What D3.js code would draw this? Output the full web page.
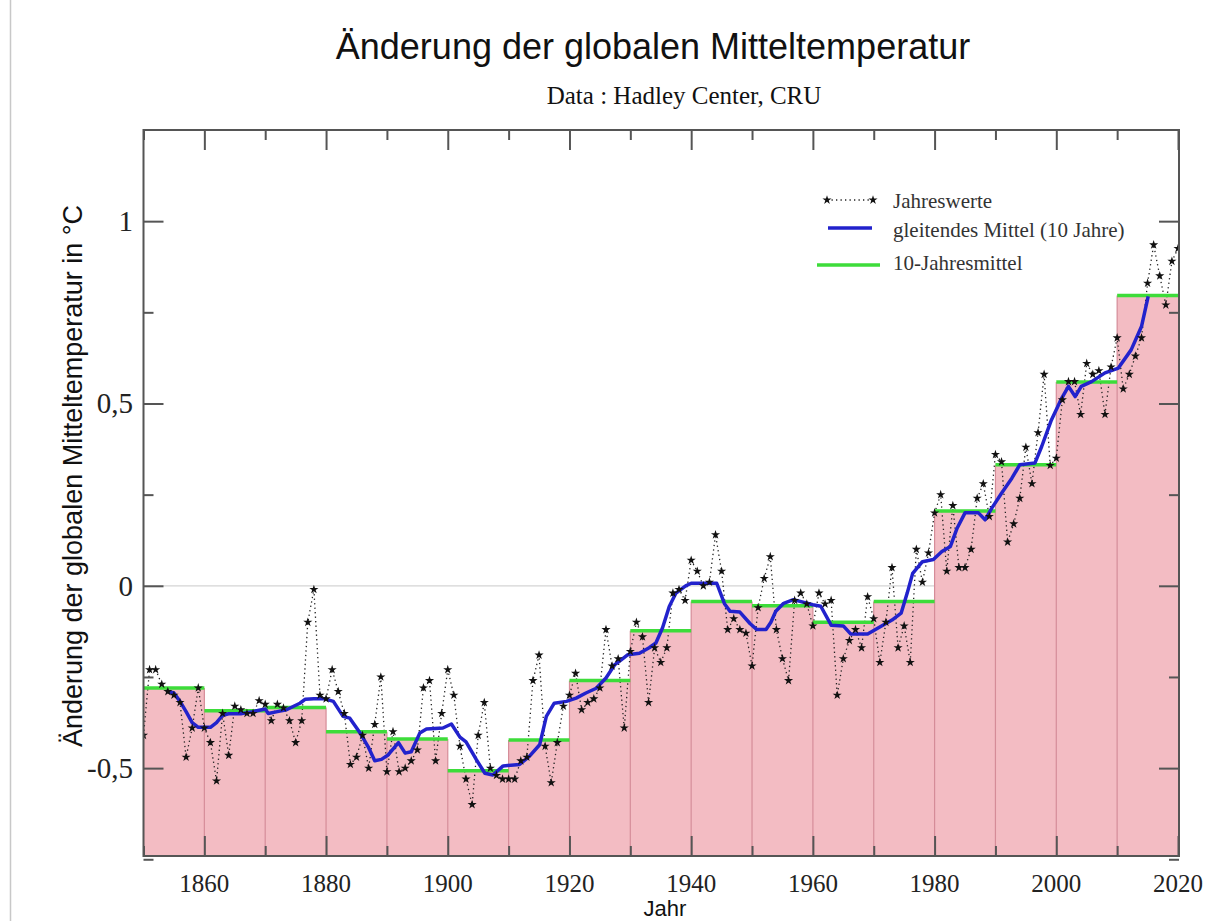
<!DOCTYPE html>
<html><head><meta charset="utf-8">
<script src="https://cdn.jsdelivr.net/npm/d3@7"></script>
<style>
html,body{margin:0;padding:0;background:#fff;}
svg{display:block;}
</style></head>
<body>
<svg id="chart" width="1216" height="921"></svg>
<script>
// ---- data ----
const years = d3.range(1850, 2021);
const annualValues = [
 -0.41,-0.23,-0.23,-0.27,-0.29,-0.30,-0.32,-0.47,-0.39,-0.28,
 -0.39,-0.43,-0.535,-0.35,-0.465,-0.33,-0.34,-0.35,-0.35,-0.315,
 -0.325,-0.37,-0.325,-0.335,-0.37,-0.43,-0.37,-0.10,-0.01,-0.30,
 -0.31,-0.23,-0.29,-0.35,-0.49,-0.47,-0.41,-0.50,-0.38,-0.25,
 -0.51,-0.40,-0.51,-0.50,-0.48,-0.45,-0.28,-0.26,-0.48,-0.35,
 -0.23,-0.30,-0.44,-0.53,-0.60,-0.41,-0.32,-0.50,-0.52,-0.53,
 -0.53,-0.53,-0.48,-0.47,-0.26,-0.19,-0.44,-0.54,-0.43,-0.33,
 -0.30,-0.24,-0.34,-0.32,-0.31,-0.28,-0.12,-0.22,-0.20,-0.39,
 -0.18,-0.10,-0.14,-0.32,-0.17,-0.21,-0.17,-0.02,-0.01,-0.04,
 0.07,0.04,0.00,0.01,0.14,0.04,-0.12,-0.09,-0.12,-0.13,
 -0.22,-0.06,0.02,0.08,-0.12,-0.20,-0.26,-0.04,-0.02,-0.05,
 -0.11,-0.02,-0.05,-0.04,-0.30,-0.20,-0.15,-0.12,-0.17,-0.03,
 -0.09,-0.21,-0.10,0.05,-0.17,-0.11,-0.21,0.10,0.01,0.09,
 0.20,0.25,0.04,0.22,0.05,0.05,0.10,0.24,0.28,0.19,
 0.36,0.34,0.12,0.17,0.24,0.38,0.28,0.42,0.58,0.33,
 0.35,0.51,0.56,0.56,0.47,0.61,0.58,0.59,0.47,0.60,
 0.68,0.54,0.58,0.63,0.68,0.83,0.935,0.85,0.77,0.89,0.925
];
const smoothYears = [1854,1855,1856,1857,1858,1859,1861,1862,1863,1864,1866,1868,1870,1870.5,1872,1873.5,1874.6,1875.7,1876.6,1878,1879.8,1881.2,1882.8,1883.9,1885.6,1886.9,1888,1889.1,1890.2,1891.9,1893,1894,1895.4,1896.5,1899.2,1900.6,1902,1903,1904.7,1906.1,1907.4,1909.1,1911.8,1913.4,1915.1,1916.2,1917.5,1919.5,1921.1,1922.7,1924.4,1926,1927.4,1928.5,1929.6,1931.5,1933.1,1934.2,1935.3,1936.4,1937.5,1939.1,1940,1944.2,1945.5,1946.4,1948,1949.7,1950.8,1952.3,1953.1,1953.9,1955.2,1956.8,1960,1961.3,1963,1965,1966.2,1969,1971,1973,1974.5,1975.5,1976.4,1978,1979.8,1981.2,1982.6,1983.7,1985,1987.2,1988.3,1989.4,1991,1992.7,1994,1996.5,1997.6,1999.2,2000.9,2002,2003.1,2004.1,2005.8,2008,2010.2,2012.3,2014,2015.1];
const smoothValues = [-0.29,-0.294,-0.317,-0.345,-0.375,-0.388,-0.388,-0.375,-0.355,-0.351,-0.351,-0.345,-0.338,-0.35,-0.345,-0.34,-0.331,-0.322,-0.311,-0.31,-0.31,-0.317,-0.358,-0.363,-0.404,-0.441,-0.48,-0.476,-0.464,-0.43,-0.459,-0.455,-0.404,-0.393,-0.39,-0.379,-0.415,-0.428,-0.477,-0.514,-0.519,-0.494,-0.49,-0.468,-0.436,-0.358,-0.322,-0.317,-0.308,-0.294,-0.281,-0.253,-0.217,-0.203,-0.189,-0.185,-0.17,-0.157,-0.115,-0.057,-0.02,0.0,0.007,0.007,-0.05,-0.07,-0.072,-0.104,-0.12,-0.12,-0.1,-0.07,-0.048,-0.038,-0.052,-0.056,-0.108,-0.11,-0.132,-0.132,-0.113,-0.094,-0.075,-0.02,0.034,0.066,0.072,0.094,0.108,0.158,0.2,0.2,0.181,0.213,0.254,0.295,0.332,0.337,0.382,0.455,0.515,0.547,0.519,0.547,0.56,0.584,0.597,0.647,0.711,0.794];
const decadeStarts = [1850,1860,1870,1880,1890,1900,1910,1920,1930,1940,1950,1960,1970,1980,1990,2000,2010];
const decadeMeans = [-0.28,-0.343,-0.334,-0.40,-0.42,-0.507,-0.423,-0.26,-0.123,-0.043,-0.055,-0.10,-0.043,0.205,0.332,0.559,0.796];
const yTickValues = [-0.5,0,0.5,1];
const yTickLabels = ["-0,5","0","0,5","1"];
const xTickValues = [1860,1880,1900,1920,1940,1960,1980,2000,2020];
const legendLabels = ["Jahreswerte","gleitendes Mittel (10 Jahre)","10-Jahresmittel"];

// ---- layout ----
const L = 143.5, R = 1179, T = 130, B = 856;
const x = d3.scaleLinear().domain([1850, 2020]).range([L, 1178]);
const y = d3.scaleLinear().domain([-0.741, 1.25]).range([B, T]);
const svg = d3.select("#chart");
const fontSans = "Liberation Sans, Arial, sans-serif";
const fontSerif = "Liberation Serif, Times New Roman, serif";

// left page rule
svg.append("line").attr("x1",10.5).attr("x2",10.5).attr("y1",0).attr("y2",921)
  .attr("stroke","#c8c8c8").attr("stroke-width",1.5);

// titles
svg.append("text").attr("x",653).attr("y",59).attr("text-anchor","middle")
  .attr("font-family",fontSans).attr("font-size",36)
  .attr("fill","#111").text("Änderung der globalen Mitteltemperatur");
svg.append("text").attr("x",684).attr("y",104).attr("text-anchor","middle")
  .attr("font-family",fontSerif).attr("font-size",25)
  .attr("fill","#111").text("Data : Hadley Center, CRU");

const plot = svg.append("g");
plot.append("clipPath").attr("id","clip").append("rect")
  .attr("x",L).attr("y",T).attr("width",R-L).attr("height",B-T);
const g = plot.append("g").attr("clip-path","url(#clip)");

// zero line
g.append("line").attr("x1",L).attr("x2",R).attr("y1",y(0)).attr("y2",y(0))
  .attr("stroke","#d4d4d4").attr("stroke-width",1.2);

// decade bars
const dec = decadeStarts.map((d,i)=>({start:d, v:decadeMeans[i]}));
g.selectAll("rect.bar").data(dec).join("rect").attr("class","bar")
  .attr("x",d=>x(d.start)).attr("width",d=>x(d.start+10)-x(d.start))
  .attr("y",d=>y(d.v)).attr("height",d=>B-y(d.v))
  .attr("fill","#f3bcc3");
g.selectAll("line.edge").data(dec).join("line").attr("class","edge")
  .attr("x1",d=>x(d.start)).attr("x2",d=>x(d.start))
  .attr("y1",(d,i)=>y(i>0?Math.max(d.v,dec[i-1].v):d.v)).attr("y2",B)
  .attr("stroke","#d58c98").attr("stroke-width",1.2);

// annual dotted line
const annual = years.map((yr,i)=>({yr, v:annualValues[i]}));
g.append("path").datum(annual)
  .attr("d", d3.line().x(d=>x(d.yr)).y(d=>y(d.v)))
  .attr("fill","none").attr("stroke","#222").attr("stroke-width",1.3)
  .attr("stroke-dasharray","1.3,3.2");

// green decade means
g.selectAll("line.dm").data(dec).join("line").attr("class","dm")
  .attr("x1",d=>x(d.start)).attr("x2",d=>x(d.start+10))
  .attr("y1",d=>y(d.v)).attr("y2",d=>y(d.v))
  .attr("stroke","#3ddc3a").attr("stroke-width",3.5);

// blue moving average
const smooth = smoothYears.map((yr,i)=>({yr, v:smoothValues[i]}));
g.append("path").datum(smooth)
  .attr("d", d3.line().x(d=>x(d.yr)).y(d=>y(d.v)))
  .attr("fill","none").attr("stroke","#2222cc").attr("stroke-width",3.5)
  .attr("stroke-linejoin","round");

// markers
const star = d3.symbol().type(d3.symbolStar).size(26);
g.selectAll("path.mk").data(annual).join("path").attr("class","mk")
  .attr("transform",d=>`translate(${x(d.yr)},${y(d.v)})`)
  .attr("d",star).attr("fill","#111");

// axes (inward ticks on all sides)
const axCol = "#555";
function styleAxis(sel){
  sel.select(".domain").remove();
  sel.selectAll(".tick line").attr("stroke",axCol).attr("stroke-width",2);
}
const xMajor = d3.range(1860, 2021, 20), xMinor = d3.range(1850, 2021, 10).filter(v=>v%20!==0);
const yMajor = yTickValues, yMinor = [-0.75,-0.25,0.25,0.75];

function addAxis(axisFn, scale, vals, size, tx, ty){
  const a = svg.append("g").attr("transform",`translate(${tx},${ty})`)
    .call(axisFn(scale).tickValues(vals).tickSize(size).tickFormat(""));
  styleAxis(a);
}
addAxis(d3.axisTop, x, xMajor, 20, 0, B);
addAxis(d3.axisTop, x, xMinor, 10, 0, B);
addAxis(d3.axisBottom, x, xMajor, 20, 0, T);
addAxis(d3.axisBottom, x, xMinor, 10, 0, T);
addAxis(d3.axisRight, y, yMajor, 20, L, 0);
addAxis(d3.axisRight, y, yMinor, 10, L, 0);
addAxis(d3.axisLeft, y, yMajor, 20, R, 0);
addAxis(d3.axisLeft, y, yMinor, 10, R, 0);

// frame
svg.append("rect").attr("x",L).attr("y",T).attr("width",R-L).attr("height",B-T)
  .attr("fill","none").attr("stroke",axCol).attr("stroke-width",2);

// tick labels
svg.append("g").selectAll("text").data(xTickValues).join("text")
  .attr("x",d=>x(d)).attr("y",892).attr("text-anchor","middle")
  .attr("font-family",fontSerif).attr("font-size",25).attr("fill","#222")
  .text(d=>d);
svg.append("g").selectAll("text").data(yTickValues).join("text")
  .attr("x",133).attr("y",d=>y(d)+10).attr("text-anchor","end")
  .attr("font-family",fontSerif).attr("font-size",29).attr("fill","#222")
  .text((d,i)=>yTickLabels[i]);

// axis titles
svg.append("text").attr("x",665).attr("y",916).attr("text-anchor","middle")
  .attr("font-family",fontSans).attr("font-size",22)
  .attr("fill","#111").text("Jahr");
svg.append("text").attr("transform","translate(82,476) rotate(-90)")
  .attr("text-anchor","middle")
  .attr("font-family",fontSans).attr("font-size",27)
  .attr("fill","#111").text("Änderung der globalen Mitteltemperatur in °C");

// legend
const lg = svg.append("g");
lg.append("line").attr("x1",827).attr("x2",873).attr("y1",200).attr("y2",200)
  .attr("stroke","#222").attr("stroke-width",1.3).attr("stroke-dasharray","1.3,3.2");
lg.selectAll("path.lm").data([827,873]).join("path").attr("class","lm")
  .attr("transform",d=>`translate(${d},200)`).attr("d",star).attr("fill","#111");
lg.append("line").attr("x1",828).attr("x2",872).attr("y1",228).attr("y2",228)
  .attr("stroke","#2222cc").attr("stroke-width",3.5);
lg.append("line").attr("x1",817).attr("x2",880).attr("y1",265).attr("y2",265)
  .attr("stroke","#3ddc3a").attr("stroke-width",3.5);
lg.selectAll("text").data(legendLabels).join("text")
  .attr("x",893).attr("y",(d,i)=>[208,237,270][i])
  .attr("font-family",fontSerif).attr("font-size",21).attr("fill","#333")
  .text(d=>d);
</script>
</body></html>
